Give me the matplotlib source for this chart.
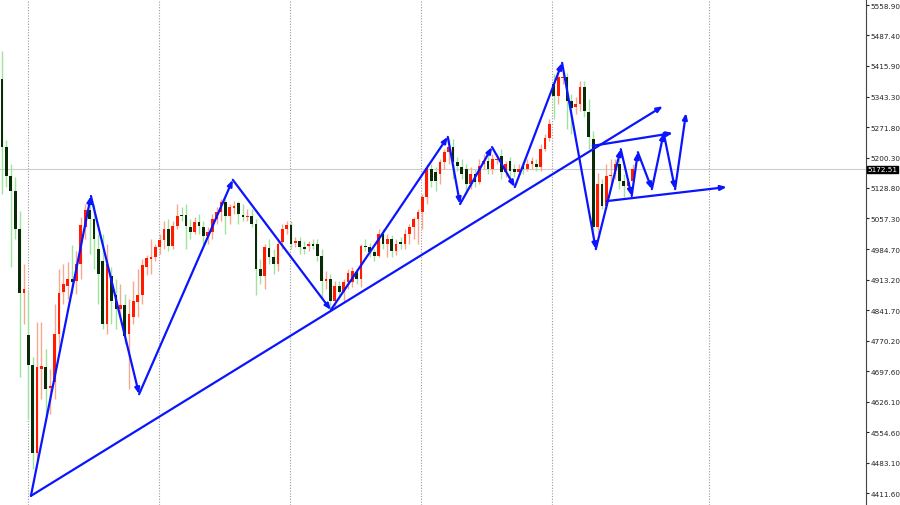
import matplotlib
matplotlib.use("Agg")
import matplotlib.pyplot as plt
import numpy as np

opens = [5385,5225,5157,5122,5032,4882,4783,4713,4506,4703,4708,4659,4673,4785,4884,4898,4915,4910,4950,5037,
 5077,5056,4985,4957,4809,4922,4877,4844,4854,4785,4825,4861,4877,4943,4962,4966,4990,5007,5032,4993,
 5040,5065,5065,5037,5025,5049,5037,5016,5025,5056,5072,5096,5063,5082,5094,5065,5061,5063,5044,4938,
 4922,4988,4966,4950,5002,5032,5042,5000,5004,4990,4993,4995,4997,4969,4910,4915,4863,4898,4884,4908,
 4908,4931,4915,4993,4990,4978,4969,5021,4997,5009,4981,5002,4997,5021,5037,5056,5072,5108,5173,5166,
 5162,5190,5213,5225,5190,5178,5173,5138,5162,5143,5185,5192,5173,5195,5204,5166,5192,5173,5166,5180,
 5173,5185,5185,5178,5220,5246,5373,5345,5387,5390,5333,5319,5326,5366,5307,5244,5037,5138,5087,5157,
 5162,5185,5145,5134,5145]
closes = [5225,5157,5122,5032,4882,4891,4713,4506,4708,4710,4656,4663,4785,4882,4903,4915,4908,4950,5042,5077,
 5056,5009,4926,4809,4950,4863,4844,4854,4781,4832,4863,4877,4948,4964,4966,4990,5007,5032,4993,5040,
 5063,5063,5040,5025,5049,5040,5016,5025,5056,5072,5096,5063,5084,5087,5068,5061,5063,5044,4938,4922,
 4990,4966,4950,4997,5032,5042,4997,5002,4990,4985,4995,4993,4969,4910,4915,4863,4898,4884,4908,4929,
 4934,4915,4993,4990,4978,4969,5021,4997,5009,4981,4997,4997,5021,5037,5056,5072,5108,5176,5145,5145,
 5190,5213,5225,5190,5180,5162,5138,5162,5143,5180,5192,5173,5197,5197,5166,5185,5169,5166,5173,5173,
 5185,5192,5178,5220,5246,5279,5345,5390,5390,5333,5317,5326,5366,5310,5249,5037,5138,5087,5157,5159,
 5185,5145,5134,5143,5173]
highs = [5451,5242,5185,5155,5075,4950,4887,4731,4814,4814,4750,4703,4856,4938,4950,4955,4995,4981,5061,5091,
 5098,5091,5021,5021,4997,4943,4915,4903,4880,4868,4910,4938,4962,4971,5009,4997,5021,5051,5056,5051,
 5091,5084,5091,5056,5061,5068,5051,5037,5068,5084,5103,5103,5091,5098,5098,5091,5080,5080,5056,4962,
 4997,5009,4985,5009,5044,5051,5051,5014,5014,5004,5004,5009,5009,4985,4934,4926,4910,4910,4915,4938,
 4943,4938,4997,5009,5000,4985,5032,5032,5021,5018,5009,5014,5032,5044,5061,5080,5115,5185,5185,5178,
 5197,5220,5244,5244,5202,5197,5185,5178,5173,5197,5209,5209,5209,5209,5220,5192,5202,5185,5185,5192,
 5197,5202,5197,5232,5256,5291,5397,5408,5399,5399,5350,5343,5380,5380,5338,5263,5164,5150,5185,5197,
 5197,5197,5162,5150,5185]
lows = [5115,5131,4943,5009,4685,4809,4586,4468,4492,4633,4586,4598,4633,4750,4856,4868,4880,4880,4915,5009,
 4974,4938,4856,4797,4785,4809,4797,4821,4762,4656,4809,4825,4856,4924,4926,4957,4974,4985,4981,4985,
 5032,5051,4985,5009,5021,5021,4997,4997,5009,5044,5051,5021,5044,5068,5044,5051,5051,5037,4877,4903,
 4891,4950,4926,4934,4985,5021,4985,4990,4974,4974,4981,4985,4957,4868,4891,4844,4849,4868,4863,4891,
 4896,4903,4896,4981,4967,4957,4967,4985,4967,4967,4971,4985,4985,4997,5009,4997,5032,5091,5131,5122,
 5138,5173,5185,5150,5169,5150,5122,5127,5131,5138,5173,5162,5162,5185,5150,5155,5155,5155,5162,5162,
 5169,5173,5169,5169,5216,5239,5291,5326,5373,5267,5256,5303,5310,5296,5220,5014,5021,5080,5080,5138,
 5150,5127,5108,5127,5138]

zigzag_x = [6.6,20.3,31.3,52.7,75.1,101.8,104.6,111.9,117.1,127.9,135.6,141.3,143.8,145.2,148.4,151.1,153.7,156.2]
zigzag_y = [4405,5110,4644,5148,4842,5249,5091,5225,5131,5423,4985,5220,5110,5213,5126,5258,5126,5305]
trend_lines = [((6.6,4405),(150.9,5321)), ((134.9,5228),(153.2,5258)), ((138.1,5098),(165.5,5131))]
vgrid = [5.9,35.8,65.8,95.7,125.6,161.4]
ytick_vals = [4411.6,4483.1,4554.6,4626.1,4697.6,4770.2,4841.7,4913.2,4984.7,5057.3,5128.8,5200.3,5271.8,5343.3,5415.9,5487.4,5558.9]
last_price = 5172.51

fig = plt.figure(figsize=(9,5.06), dpi=100)
ax = fig.add_axes([0,0,866/900,1])
ax.set_xlim(-0.46,197.3)
ax.set_ylim(4383.5,5573.1)

for g in vgrid:
    ax.axvline(g, color='#999999', lw=0.8, ls=(0,(1,1.5)), zorder=0)
ax.axhline(last_price, color='#cccccc', lw=0.8, zorder=0)

o = np.array(opens); c = np.array(closes); h = np.array(highs); l = np.array(lows)
x = np.arange(len(o))
up = c >= o
ax.vlines(x[up], l[up], h[up], color='#f7a98f', lw=1, zorder=1)
ax.vlines(x[~up], l[~up], h[~up], color='#9ee39e', lw=1, zorder=1)
bot = np.minimum(o,c); ht = np.maximum(np.abs(c-o), 3)
ax.bar(x[up], ht[up], bottom=bot[up], width=0.62, color='#ff1a00', zorder=2)
ax.bar(x[~up], ht[~up], bottom=bot[~up], width=0.62, color='#0a2a0a', zorder=2)

blue = '#0a14ff'
ap = dict(arrowstyle='-|>,head_length=0.35,head_width=0.14', color=blue, lw=1.6, shrinkA=0, shrinkB=0)
for i in range(len(zigzag_x)-1):
    ax.annotate('', xy=(zigzag_x[i+1],zigzag_y[i+1]), xytext=(zigzag_x[i],zigzag_y[i]), arrowprops=ap, zorder=3)
for (a,b) in trend_lines:
    ax.annotate('', xy=b, xytext=a, arrowprops=ap, zorder=3)

ax.yaxis.tick_right()
ax.set_yticks(ytick_vals)
ax.set_yticklabels([f'{v:.2f}' for v in ytick_vals], fontsize=5.2, color='#222222')
ax.tick_params(axis='y', length=2, pad=1.5, colors='#222222')
ax.set_xticks([])
for s in ['top','left','bottom']:
    ax.spines[s].set_visible(False)
ax.spines['right'].set_color('#444444')
ax.text(1.002, last_price, f'{last_price:.2f}', transform=ax.get_yaxis_transform(), fontsize=5.2,
        color='white', va='center', ha='left', bbox=dict(boxstyle='square,pad=0.1', fc='black', ec='black'))
fig.savefig('out.png', dpi=100)
